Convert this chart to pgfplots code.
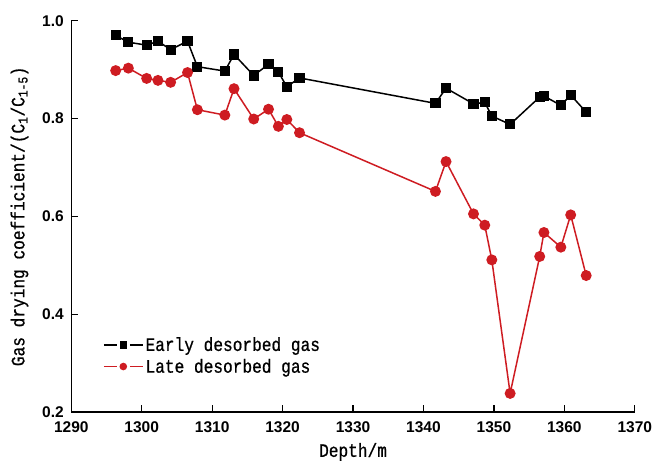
\documentclass[border=0pt]{standalone}
\usepackage{fontspec}
\usepackage{pgfplots}
\pgfplotsset{compat=1.18}
\setmainfont{Liberation Sans}
\newfontfamily\labfont[FakeStretch=0.85,FakeBold=0.8]{Liberation Mono}
\definecolor{lategas}{RGB}{206,28,34}

\pgfplotstableread{
depth early late
1296.3 0.970 0.898
1298.1 0.956 0.903
1300.7 0.950 0.882
1302.3 0.958 0.878
1304.1 0.941 0.874
1306.5 0.958 0.894
1307.9 0.906 0.818
1311.8 0.897 0.807
1313.1 0.931 0.861
1315.9 0.888 0.799
1318.0 0.911 0.819
1319.4 0.895 0.784
1320.6 0.865 0.798
1322.4 0.883 0.771
1341.7 0.831 0.651
1343.2 0.862 0.712
1347.1 0.830 0.605
1348.7 0.833 0.582
1349.7 0.805 0.511
1352.3 0.788 0.238
1356.5 0.844 0.518
1357.1 0.846 0.567
1359.5 0.827 0.537
1360.9 0.848 0.603
1363.1 0.813 0.479
}\gasdata

\begin{document}
\begin{tikzpicture}
\begin{axis}[
  scale only axis,
  width=563.5bp, height=391.3bp,
  xmin=1290, xmax=1370, ymin=0.2, ymax=1.0,
  xtick={1290,1300,1310,1320,1330,1340,1350,1360,1370},
  ytick={0.2,0.4,0.6,0.8,1.0},
  axis x line*=bottom, axis y line*=left,
  axis line style={line width=1.3bp},
  tick style={line width=1.2bp, black},
  tick align=inside, major tick length=7bp,
  /pgf/number format/assume math mode=true,
  /pgf/number format/set thousands separator={},
  yticklabel style={/pgf/number format/fixed, /pgf/number format/precision=1,
    /pgf/number format/fixed zerofill, xshift=-4bp},
  ticklabel style={font=\bfseries\fontsize{15.5bp}{18bp}\selectfont},
  xticklabel style={yshift=-6bp},
  xlabel={Depth/m},
  ylabel={Gas drying coefficient/(C\textsubscript{1}/C\textsubscript{1-5})},
  label style={font=\labfont\fontsize{19bp}{22bp}\selectfont},
  xlabel style={at={(axis description cs:0.5,-0.102)}, anchor=center},
  ylabel style={at={(axis description cs:-0.092,0.5)}, anchor=center},
  legend cell align=left,
  legend image code/.code={
    \draw[#1, mark=none] (0bp,0bp) -- (13bp,0bp);
    \draw[#1, mark=none] (26bp,0bp) -- (39bp,0bp);
    \draw[mark repeat=2,mark phase=2,#1,mark size=3bp]
      plot[only marks] coordinates {(0bp,0bp) (19.5bp,0bp) (39bp,0bp)};
  },
  legend style={draw=none, fill=none,
    font=\labfont\fontsize{19bp}{22bp}\selectfont,
    at={(axis description cs:0.056,0.144)}, anchor=west,
    inner xsep=0pt, inner ysep=0pt,
    row sep=4.5bp,
    nodes={inner ysep=1bp, inner xsep=2bp}},
]
\addplot[black, line width=1.5bp, mark=square*, mark size=4.3bp]
  table[x=depth, y=early] {\gasdata};
\addlegendentry{Early desorbed gas}
\addplot[lategas, line width=1.5bp, mark=*, mark size=4.7bp]
  table[x=depth, y=late] {\gasdata};
\addlegendentry{Late desorbed gas}
\coordinate (bbsw) at (rel axis cs:0,0);
\end{axis}
\pgfresetboundingbox
\path ([xshift=-71.3bp, yshift=-56bp]bbsw) rectangle ++(654bp,468bp);
\end{tikzpicture}
\end{document}
